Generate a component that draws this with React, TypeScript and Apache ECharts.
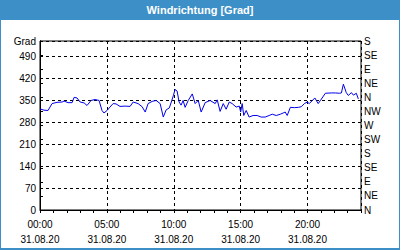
import React, { useEffect, useRef } from "react";
import * as echarts from "echarts";

const titleText = "Windrichtung [Grad]";
const unitLabel = "Grad";
const dateLabel = "31.08.20";
const directionLabels = ["N", "NE", "E", "SE", "S", "SW", "W", "NW", "N", "NE", "E", "SE", "S"];

const times = [
  "00:00", "00:18", "00:36", "00:54", "01:16", "01:39", "01:48", "02:06", "02:24", "02:33",
  "02:46", "03:00", "03:18", "03:31", "03:49", "04:07", "04:25", "04:38", "04:47", "05:01",
  "05:14", "05:28", "05:41", "05:59", "06:22", "06:44", "06:58", "07:20", "07:38", "07:52",
  "08:05", "08:23", "08:41", "08:59", "09:13", "09:26", "09:40", "09:49", "09:58", "10:06",
  "10:15", "10:24", "10:33", "10:42", "10:51", "11:05", "11:23", "11:36", "11:50", "12:03",
  "12:21", "12:43", "13:06", "13:15", "13:28", "13:42", "13:55", "14:09", "14:22", "14:40",
  "14:54", "15:00", "15:07", "15:14", "15:25", "15:38", "15:56", "16:14", "16:32", "16:50",
  "17:08", "17:22", "17:40", "17:58", "18:11", "18:20", "18:29", "18:43", "19:01", "19:19",
  "19:32", "19:46", "19:59", "20:08", "20:33", "20:48", "20:58", "21:20", "21:47", "22:05",
  "22:23", "22:32", "22:41", "22:54", "23:03", "23:17", "23:26", "23:39", "23:48",
];

const directions = [
  323, 319, 318, 340, 344, 345, 348, 343, 343, 360,
  358, 345, 342, 334, 350, 353, 350, 318, 310, 318,
  329, 340, 339, 331, 332, 331, 345, 340, 330, 313,
  340, 347, 350, 340, 297, 320, 326, 345, 365, 385,
  380, 345, 335, 350, 328, 350, 371, 340, 350, 313,
  343, 350, 340, 352, 315, 340, 322, 345, 340, 329,
  332, 313, 340, 302, 318, 297, 302, 302, 297, 297,
  302, 306, 302, 306, 310, 313, 302, 328, 327, 328,
  330, 340, 345, 340, 358, 340, 350, 373, 374, 374,
  373, 374, 402, 375, 366, 375, 367, 373, 355,
];

const xTickLabels = ["00:00", "05:00", "10:00", "15:00", "20:00"];

const FONT = "Liberation Sans, Arial, sans-serif";

function toHours(t: string): number {
  const [h, m] = t.split(":").map(Number);
  return h + m / 60;
}

export default function App() {
  const ref = useRef<HTMLDivElement>(null);

  useEffect(() => {
    if (!ref.current) return;
    const chart = echarts.init(ref.current, undefined, { renderer: "svg" });
    const data = times.map((t, i) => [toHours(t), directions[i]]);
    const blue = "#3c8fc7";
    chart.setOption({
      animation: false,
      backgroundColor: "#ffffff",
      graphic: [
        { type: "rect", shape: { x: 0, y: 0, width: 400, height: 20 }, style: { fill: blue }, silent: true },
        { type: "rect", shape: { x: 0, y: 0, width: 1, height: 250 }, style: { fill: blue }, silent: true },
        { type: "rect", shape: { x: 399, y: 0, width: 1, height: 250 }, style: { fill: blue }, silent: true },
        { type: "rect", shape: { x: 0, y: 248, width: 400, height: 2 }, style: { fill: blue }, silent: true },
        {
          type: "text",
          x: 200,
          y: 10,
          style: {
            text: titleText,
            fill: "#ffffff",
            font: `bold 11px ${FONT}`,
            textAlign: "center",
            textVerticalAlign: "middle",
          },
          silent: true,
        },
      ],
      grid: {
        left: 40,
        right: 39,
        top: 41,
        bottom: 40,
        show: true,
        borderColor: "#000",
        borderWidth: 1,
        backgroundColor: "transparent",
      },
      xAxis: [
        {
          type: "value",
          position: "bottom",
          min: 0,
          max: 24,
          interval: 1,
          axisLine: { show: true, lineStyle: { color: "#000", width: 1 } },
          axisTick: { show: true, length: 3, lineStyle: { color: "#000" } },
          splitLine: { show: false },
          axisLabel: {
            show: true,
            margin: 7,
            color: "#000",
            fontSize: 10,
            fontFamily: FONT,
            lineHeight: 15,
            formatter: (v: number) => {
              const idx = xTickLabels.findIndex((l) => toHours(l) === v);
              return idx >= 0 ? `${xTickLabels[idx]}\n${dateLabel}` : "";
            },
          },
        },
        {
          type: "value",
          position: "bottom",
          min: 0,
          max: 24,
          interval: 5,
          axisLine: { show: false },
          axisTick: { show: false },
          axisLabel: { show: false },
          splitLine: { show: true, lineStyle: { color: "#000", type: [3, 3], width: 1 } },
        },
      ],
      yAxis: [
        {
          type: "value",
          position: "left",
          min: 0,
          max: 540,
          interval: 70,
          axisLine: { show: true, lineStyle: { color: "#000" } },
          axisTick: { show: false },
          splitLine: { show: true, lineStyle: { color: "#000", type: [3, 3], width: 1 } },
          axisLabel: {
            margin: 4,
            color: "#000",
            fontSize: 10,
            fontFamily: FONT,
            formatter: (v: number) => (v === 540 ? unitLabel : String(v)),
          },
        },
        {
          type: "value",
          position: "right",
          min: 0,
          max: 540,
          interval: 45,
          axisLine: { show: true, lineStyle: { color: "#000" } },
          axisTick: { show: true, length: 3, lineStyle: { color: "#000" } },
          splitLine: { show: false },
          axisLabel: {
            margin: 3,
            color: "#000",
            fontSize: 10,
            fontFamily: FONT,
            formatter: (v: number) => directionLabels[Math.round(v / 45)] ?? "",
          },
        },
      ],
      series: [
        {
          type: "line",
          xAxisIndex: 0,
          yAxisIndex: 0,
          data,
          showSymbol: false,
          symbol: "none",
          lineStyle: { color: "#0000ee", width: 1 },
        },
      ],
    });
    return () => chart.dispose();
  }, []);

  return (
    <div
      ref={ref}
      style={{ position: "absolute", left: 0, top: 0, width: 400, height: 250 }}
    />
  );
}
